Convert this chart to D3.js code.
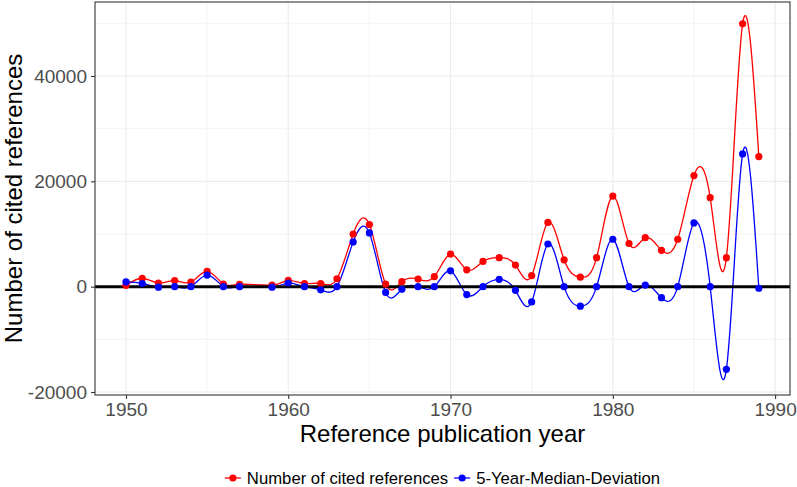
<!DOCTYPE html>
<html>
<head>
<meta charset="utf-8">
<script src="https://cdn.jsdelivr.net/npm/d3@7"></script>
<style>
  body { margin: 0; background: #fff; }
  text { font-family: "Liberation Sans", Arial, sans-serif; }
</style>
</head>
<body>
<div id="chart"></div>
<script>
// years (1958 is missing in the source data)
var years = [1950, 1951, 1952, 1953, 1954, 1955, 1956, 1957, 1959, 1960,
             1961, 1962, 1963, 1964, 1965, 1966, 1967, 1968, 1969, 1970,
             1971, 1972, 1973, 1974, 1975, 1976, 1977, 1978, 1979, 1980,
             1981, 1982, 1983, 1984, 1985, 1986, 1987, 1988, 1989];

var citedRefs = [250, 1600, 700, 1150, 850, 2900, 500, 450, 300, 1200,
                 600, 600, 1500, 10000, 11800, 500, 950, 1450, 1900, 6200,
                 3200, 4800, 5500, 4100, 2100, 12200, 5100, 1800, 5500, 17200,
                 8200, 9300, 6900, 9000, 21100, 16900, 5500, 49900, 24700];

var medianDev = [900, 600, -100, 0, 0, 2200, 0, 0, -100, 700,
                 0, -600, 0, 8500, 10200, -1100, -500, 0, 0, 3000,
                 -1500, 0, 1400, -700, -2900, 8100, 0, -3700, 0, 9000,
                 0, 300, -2100, 0, 12100, 0, -15700, 25200, -300];

var xTicks = [1950, 1960, 1970, 1980, 1990];
var xMinor = [1955, 1965, 1975, 1985];
var yTicks = [-20000, 0, 20000, 40000];
var yMinor = [-10000, 10000, 30000, 50000];

var seriesNames = ["Number of cited references", "5-Year-Median-Deviation"];
var seriesColors = ["#ff0000", "#0000ff"];

var width = 797, height = 487;
var panel = {left: 95, right: 790, top: 2, bottom: 395};

var svg = d3.select("#chart").append("svg")
    .attr("width", width)
    .attr("height", height);

var x = d3.scaleLinear()
    .domain([1948.09, 1990.92])
    .range([panel.left, panel.right]);

var y = d3.scaleLinear()
    .domain([-20570, 54050])
    .range([panel.bottom, panel.top]);

// grid
var grid = svg.append("g");
grid.selectAll(".minx").data(xMinor).enter().append("line")
    .attr("x1", function (d) { return x(d); })
    .attr("x2", function (d) { return x(d); })
    .attr("y1", panel.top).attr("y2", panel.bottom)
    .style("stroke", "#ebebeb").style("stroke-width", 0.6);
grid.selectAll(".miny").data(yMinor).enter().append("line")
    .attr("y1", function (d) { return y(d); })
    .attr("y2", function (d) { return y(d); })
    .attr("x1", panel.left).attr("x2", panel.right)
    .style("stroke", "#ebebeb").style("stroke-width", 0.6);
grid.selectAll(".majx").data(xTicks).enter().append("line")
    .attr("x1", function (d) { return x(d); })
    .attr("x2", function (d) { return x(d); })
    .attr("y1", panel.top).attr("y2", panel.bottom)
    .style("stroke", "#ebebeb").style("stroke-width", 1.1);
grid.selectAll(".majy").data(yTicks).enter().append("line")
    .attr("y1", function (d) { return y(d); })
    .attr("y2", function (d) { return y(d); })
    .attr("x1", panel.left).attr("x2", panel.right)
    .style("stroke", "#ebebeb").style("stroke-width", 1.1);

// lines
var series = [citedRefs, medianDev];
var line = d3.line()
    .x(function (d, i) { return x(years[i]); })
    .y(function (d) { return y(d); })
    .curve(d3.curveNatural);

series.forEach(function (s, k) {
  svg.append("path")
      .datum(s)
      .attr("d", line)
      .style("fill", "none")
      .style("stroke", seriesColors[k])
      .style("stroke-width", 1.3);
});

// zero line
svg.append("line")
    .attr("x1", panel.left).attr("x2", panel.right)
    .attr("y1", y(0)).attr("y2", y(0))
    .style("stroke", "#000").style("stroke-width", 3);

// points
series.forEach(function (s, k) {
  svg.append("g").selectAll("circle")
      .data(s)
      .enter().append("circle")
      .attr("cx", function (d, i) { return x(years[i]); })
      .attr("cy", function (d) { return y(d); })
      .attr("r", 3.6)
      .style("fill", seriesColors[k]);
});

// panel border
svg.append("rect")
    .attr("x", panel.left).attr("y", panel.top)
    .attr("width", panel.right - panel.left)
    .attr("height", panel.bottom - panel.top)
    .style("fill", "none").style("stroke", "#333").style("stroke-width", 1.1);

// axes (plain hyphen for negatives, like the original)
var plain = function (d) { return String(d); };
var xAxis = svg.append("g")
    .attr("transform", "translate(0," + panel.bottom + ")")
    .call(d3.axisBottom(x).tickValues(xTicks).tickSize(4).tickPadding(4).tickFormat(plain));
var yAxis = svg.append("g")
    .attr("transform", "translate(" + panel.left + ",0)")
    .call(d3.axisLeft(y).tickValues(yTicks).tickSize(4).tickPadding(4).tickFormat(plain));

[xAxis, yAxis].forEach(function (a) {
  a.select(".domain").remove();
  a.selectAll(".tick line").style("stroke", "#333").style("stroke-width", 1.1);
  a.selectAll(".tick text")
      .style("font-family", "'Liberation Sans', Arial, sans-serif")
      .style("font-size", "19px")
      .style("fill", "#4d4d4d");
});
xAxis.selectAll(".tick text").attr("dy", "0.71em");

// axis titles
svg.append("text")
    .attr("x", (panel.left + panel.right) / 2)
    .attr("y", 442)
    .attr("text-anchor", "middle")
    .style("font-size", "24px")
    .style("fill", "#000")
    .text("Reference publication year");

svg.append("text")
    .attr("transform", "translate(22," + (panel.top + panel.bottom) / 2 + ") rotate(-90)")
    .attr("text-anchor", "middle")
    .style("font-size", "24px")
    .style("fill", "#000")
    .text("Number of cited references");

// legend
var legend = svg.append("g");
var cursor = 0;
seriesNames.forEach(function (name, k) {
  var item = legend.append("g").attr("transform", "translate(" + cursor + ",0)");
  item.append("line")
      .attr("x1", 0).attr("x2", 16)
      .attr("y1", 0).attr("y2", 0)
      .style("stroke", seriesColors[k]).style("stroke-width", 1.3);
  item.append("circle")
      .attr("cx", 8).attr("cy", 0).attr("r", 3.6)
      .style("fill", seriesColors[k]);
  var t = item.append("text")
      .attr("x", 22).attr("y", 6)
      .style("font-size", "16.7px")
      .style("fill", "#000")
      .text(name);
  cursor += 22 + t.node().getComputedTextLength() + 6;
});
var legendWidth = cursor - 6;
legend.attr("transform", "translate(" + ((panel.left + panel.right) / 2 - legendWidth / 2) + ",478)");
</script>
</body>
</html>
